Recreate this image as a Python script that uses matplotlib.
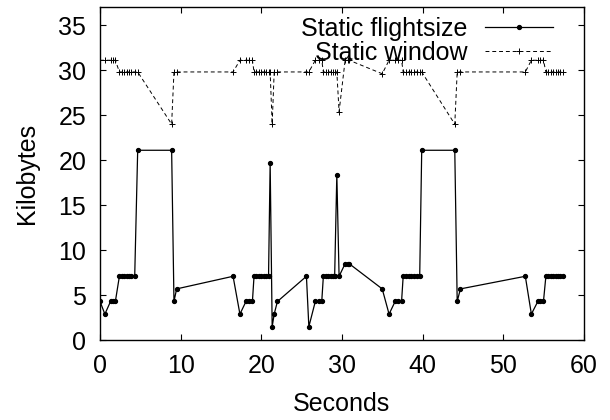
import matplotlib
matplotlib.use("Agg")
import matplotlib.pyplot as plt

plt.rcParams['font.family'] = ['Liberation Sans', 'DejaVu Sans']

# sample times (s), shared by both traces
seconds = [0.0, 0.6, 1.3, 1.6, 1.9, 2.4, 2.7, 3.0, 3.3, 3.6, 3.9, 4.3, 4.67,
           8.88, 9.17, 9.5, 16.5, 17.35, 18.1, 18.5, 18.9, 19.1, 19.4, 19.7,
           20.0, 20.3, 20.6, 20.9, 21.1, 21.35, 21.6, 22.0, 25.6, 25.9, 26.7,
           27.1, 27.5, 27.7, 28.0, 28.3, 28.6, 28.9, 29.1, 29.37, 29.65, 30.4,
           30.7, 30.9, 35.0, 35.85, 36.6, 37.0, 37.4, 37.6, 37.9, 38.3, 38.6,
           38.9, 39.3, 39.65, 39.9, 44.0, 44.3, 44.7, 52.75, 53.5, 54.3, 54.6,
           55.0, 55.3, 55.6, 55.9, 56.2, 56.5, 56.8, 57.1, 57.4]

flightsize = [4.3, 2.9, 4.3, 4.3, 4.3, 7.1, 7.1, 7.1, 7.1, 7.1, 7.1, 7.1, 21.1,
              21.1, 4.3, 5.7, 7.1, 2.9, 4.3, 4.3, 4.3, 7.1, 7.1, 7.1,
              7.1, 7.1, 7.1, 7.1, 19.7, 1.5, 2.9, 4.3, 7.1, 1.5, 4.3,
              4.3, 4.3, 7.1, 7.1, 7.1, 7.1, 7.1, 7.1, 18.4, 7.1, 8.5,
              8.5, 8.5, 5.7, 2.9, 4.3, 4.3, 4.3, 7.1, 7.1, 7.1, 7.1,
              7.1, 7.1, 7.1, 21.1, 21.1, 4.3, 5.7, 7.1, 2.9, 4.3, 4.3,
              4.3, 7.1, 7.1, 7.1, 7.1, 7.1, 7.1, 7.1, 7.1]

window = [31.1, 31.1, 31.1, 31.1, 31.1, 29.8, 29.8, 29.8, 29.8, 29.8, 29.8, 29.8, 29.8,
          24.0, 29.8, 29.8, 29.8, 31.1, 31.1, 31.1, 31.1, 29.8, 29.8, 29.8,
          29.8, 29.8, 29.8, 29.8, 29.8, 24.0, 29.8, 29.8, 29.8, 29.8, 31.1,
          31.1, 31.1, 29.8, 29.8, 29.8, 29.8, 29.8, 29.8, 29.8, 25.4, 31.1,
          31.1, 31.1, 29.6, 31.1, 31.1, 31.1, 31.1, 29.8, 29.8, 29.8, 29.8,
          29.8, 29.8, 29.8, 29.8, 24.0, 29.8, 29.8, 29.8, 31.1, 31.1, 31.1,
          31.1, 29.8, 29.8, 29.8, 29.8, 29.8, 29.8, 29.8, 29.8]

fig = plt.figure(figsize=(6.1, 4.2), dpi=100)
ax = fig.add_axes([0.164, 0.19, 0.793, 0.793])

ax.plot(seconds, flightsize, color='black', lw=0.9, marker='o', ms=2.8,
        label='Static flightsize')
ax.plot(seconds, window, color='black', lw=0.7, dashes=(4, 3), marker='+',
        ms=4.5, mew=0.7, label='Static window')

ax.set_xlim(0, 60)
ax.set_ylim(0, 37)
ax.set_xticks(range(0, 61, 10))
ax.set_yticks(range(0, 36, 5))
ax.tick_params(direction='in', length=4, width=0.8, top=True, right=True,
               labelsize=18, pad=10)
for s in ax.spines.values():
    s.set_linewidth(1.0)

ax.set_xlabel('Seconds', fontsize=18, labelpad=10)
ax.set_ylabel('Kilobytes', fontsize=18, labelpad=14)

# gnuplot-style key: right-aligned labels, sample line after the text
ax.legend(loc='upper right', bbox_to_anchor=(0.936, 0.97), frameon=False,
          fontsize=18, markerfirst=False, numpoints=1, handlelength=2.7,
          handletextpad=0.7, labelspacing=0.0, borderpad=0, borderaxespad=0)

fig.savefig('out.png', dpi=100)
